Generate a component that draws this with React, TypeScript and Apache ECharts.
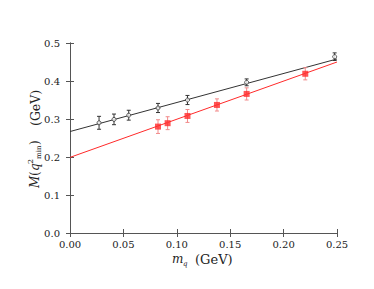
import React, { useEffect, useRef } from "react";
import * as echarts from "echarts";

const blackX = [0.0272, 0.0412, 0.055, 0.0824, 0.11, 0.1654, 0.2478];
const blackY = [0.29, 0.299, 0.31, 0.329, 0.35, 0.3965, 0.464];
const blackErr = [0.017, 0.014, 0.013, 0.012, 0.012, 0.009, 0.01];

const redX = [0.0824, 0.0914, 0.11, 0.1376, 0.1654, 0.2203];
const redY = [0.28, 0.289, 0.308, 0.337, 0.366, 0.419];
const redErr = [0.018, 0.017, 0.017, 0.016, 0.016, 0.016];

const fitX = [0, 0.25];
const blackFitY = [0.267, 0.458];
const redFitY = [0.199, 0.45];

const xTicks = [0, 0.05, 0.1, 0.15, 0.2, 0.25];
const yTicks = [0, 0.1, 0.2, 0.3, 0.4, 0.5];

const FONT = "DejaVu Serif";
const AXIS_COLOR = "#555";
const BLACK = "#333";
const RED = "#ff2a2a";
const RED_ERR = "#f28a8a";
const TXT = "#222";

function errRender(color: string) {
  return (params: any, api: any) => {
    const x = api.value(0);
    const y = api.value(1);
    const e = api.value(2);
    const top = api.coord([x, y + e]);
    const bot = api.coord([x, y - e]);
    const c = 2;
    const style = { stroke: color, lineWidth: 1 };
    return {
      type: "group",
      children: [
        { type: "line", shape: { x1: top[0], y1: top[1], x2: bot[0], y2: bot[1] }, style },
        { type: "line", shape: { x1: top[0] - c, y1: top[1], x2: top[0] + c, y2: top[1] }, style },
        { type: "line", shape: { x1: bot[0] - c, y1: bot[1], x2: bot[0] + c, y2: bot[1] }, style },
      ],
    };
  };
}

function t(text: string, x: number, y: number, font: string) {
  return { type: "text", x, y, style: { text, font, fill: TXT, verticalAlign: "middle", lineHeight: 8 } };
}

export default function App() {
  const ref = useRef<HTMLDivElement>(null);
  useEffect(() => {
    if (!ref.current) return;
    const chart = echarts.init(ref.current, undefined, { renderer: "svg" });
    const axisCommon = {
      axisLine: { show: true, lineStyle: { color: AXIS_COLOR, width: 1 } },
      axisTick: { show: true, inside: true, length: 4, lineStyle: { color: AXIS_COLOR } },
      splitLine: { show: false },
    };
    const xBase = { type: "value", min: 0, max: 0.25, interval: 0.05 };
    const yBase = { type: "value", min: 0, max: 0.5, interval: 0.1 };
    const tFont = { fontFamily: FONT, fontSize: 10, color: TXT, lineHeight: 9 };
    chart.setOption({
      animation: false,
      grid: { left: 70, right: 37, top: 43, bottom: 56 },
      xAxis: [
        {
          ...xBase,
          ...axisCommon,
          position: "bottom",
          axisLabel: {
            ...tFont,
            margin: 7,
            formatter: (v: number) => (xTicks.some((k) => Math.abs(k - v) < 1e-9) ? v.toFixed(2) : ""),
          },
        },
        { ...xBase, ...axisCommon, position: "top", axisLabel: { show: false } },
      ],
      yAxis: [
        {
          ...yBase,
          ...axisCommon,
          position: "left",
          axisLabel: {
            ...tFont,
            margin: 10,
            formatter: (v: number) => (yTicks.some((k) => Math.abs(k - v) < 1e-9) ? v.toFixed(1) : ""),
          },
        },
        { ...yBase, ...axisCommon, position: "right", axisLabel: { show: false } },
      ],
      series: [
        {
          type: "line",
          data: fitX.map((x, i) => [x, blackFitY[i]]),
          symbol: "none",
          lineStyle: { color: BLACK, width: 1 },
          z: 2,
        },
        {
          type: "line",
          data: fitX.map((x, i) => [x, redFitY[i]]),
          symbol: "none",
          lineStyle: { color: RED, width: 1 },
          z: 2,
        },
        {
          type: "custom",
          renderItem: errRender(BLACK),
          data: blackX.map((x, i) => [x, blackY[i], blackErr[i]]),
          z: 3,
        },
        {
          type: "custom",
          renderItem: errRender(RED_ERR),
          data: redX.map((x, i) => [x, redY[i], redErr[i]]),
          z: 3,
        },
        {
          type: "scatter",
          data: blackX.map((x, i) => [x, blackY[i]]),
          symbol: "circle",
          symbolSize: 4,
          itemStyle: { color: "#fff", borderColor: BLACK, borderWidth: 1 },
          z: 4,
        },
        {
          type: "scatter",
          data: redX.map((x, i) => [x, redY[i]]),
          symbol: "rect",
          symbolSize: 6,
          itemStyle: { color: RED },
          z: 4,
        },
      ],
      graphic: [
        {
          type: "group",
          x: 35,
          y: 138,
          rotation: Math.PI / 2,
          children: [
            t("M", -50, 0, `italic 12px ${FONT}`),
            t("(", -38, 0, `12px ${FONT}`),
            t("q", -33, 0, `italic 12px ${FONT}`),
            t("2", -26, -5, `8px ${FONT}`),
            t("min", -21, 4, `7px ${FONT}`),
            t(")", -7, 0, `12px ${FONT}`),
            t("(GeV)", 12, 0, `12.5px ${FONT}`),
          ],
        },
        t("m", 172, 259, `italic 12px ${FONT}`),
        t("q", 183, 264, `italic 7px ${FONT}`),
        t("(GeV)", 195, 259, `13px ${FONT}`),
      ],
    });
    return () => chart.dispose();
  }, []);
  return <div ref={ref} style={{ width: 374, height: 289, marginLeft: -8, marginTop: -8 }} />;
}
